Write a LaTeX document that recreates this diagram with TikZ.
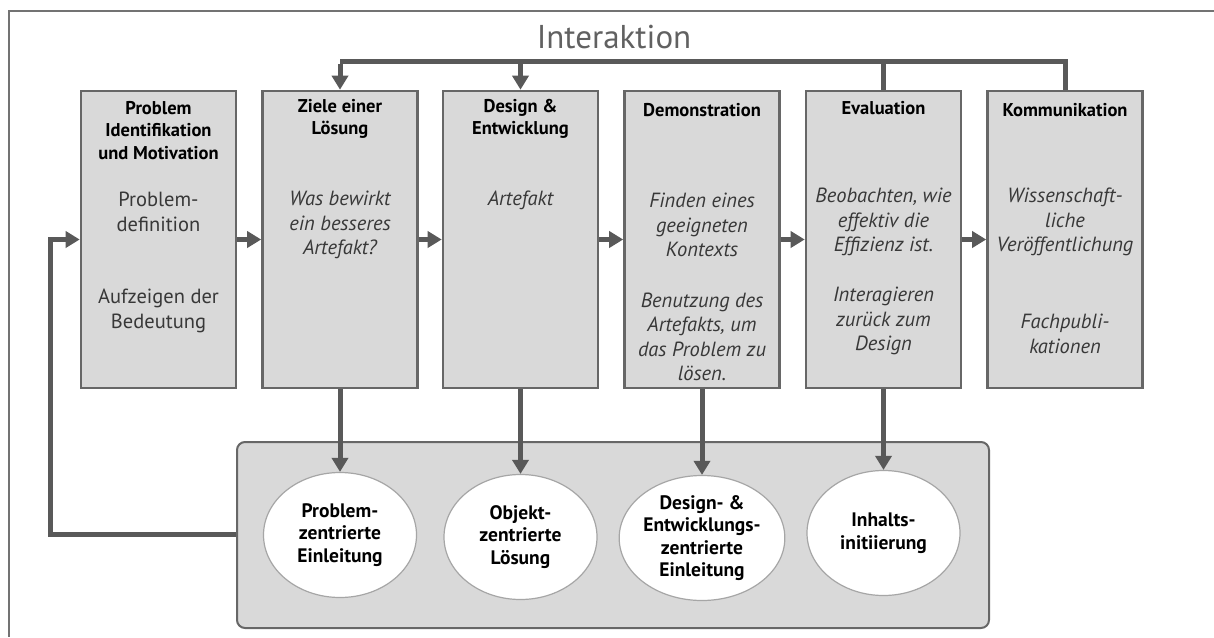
\documentclass[tikz,border=0pt]{standalone}
\usepackage{fontspec}
\setmainfont{PT Sans}
\usetikzlibrary{arrows.meta,shapes.geometric}
\definecolor{linegray}{HTML}{595959}
\definecolor{boxfill}{HTML}{D9D9D9}
\definecolor{boxline}{HTML}{676767}
\definecolor{bodytext}{HTML}{383838}
\begin{document}
\begin{tikzpicture}[x=1pt,y=-1pt,
  stagebox/.style={draw=boxline, line width=2.6pt, fill=boxfill,
    minimum width=155pt, minimum height=297pt, inner sep=0pt},
  title/.style={font=\fontsize{18.5}{22.5}\selectfont\bfseries, text=black,
    align=center, inner sep=0pt},
  body/.style={font=\fontsize{20.5}{24.5}\selectfont, text=bodytext,
    align=center, inner sep=0pt},
  bodyit/.style={body, font=\fontsize{20.5}{24.5}\selectfont\itshape},
  outcome/.style={ellipse, draw=black!35, line width=1.2pt, fill=white,
    minimum width=153pt, minimum height=125pt, inner sep=0pt, align=center,
    font=\fontsize{19.5}{22.5}\selectfont\bfseries},
  conn/.style={draw=linegray, line width=5pt},
  arr/.style={conn, -{Triangle[length=14pt,width=16pt]}},
]
\useasboundingbox (0,0) rectangle (1214,637);

% outer frame (open towards right and bottom)
\draw[draw=black!55, line width=2.6pt] (1214,11) -- (9,11) -- (9,637);

% heading
\node[font=\fontsize{33}{38}\selectfont, text=black!62, inner sep=0pt] (head) at (614,37) {Interaktion};

% process stages
\node[stagebox] (b1) at (158.5,239.5) {};
\node[stagebox] (b2) at (340,239.5) {};
\node[stagebox] (b3) at (520.5,239.5) {};
\node[stagebox] (b4) at (702,239.5) {};
\node[stagebox] (b5) at (883.5,239.5) {};
\node[stagebox] (b6) at (1065,239.5) {};

% stage titles
\node[title] (t1) at (158.5,130.5) {Problem\\Identifikation\\und Motivation};
\node[title] (t2) at (340,119) {Ziele einer\\Lösung};
\node[title] (t3) at (520.5,119) {Design \&\\Entwicklung};
\node[title] (t4) at (702,110) {Demonstration};
\node[title] (t5) at (883.5,108) {Evaluation};
\node[title] (t6) at (1065,110) {Kommunikation};

% stage contents
\node[body] (c1a) at (158.5,212) {Problem-\\definition};
\node[body] (c1b) at (158.5,311) {Aufzeigen der\\Bedeutung};
\node[bodyit] (c2) at (340,225) {Was bewirkt\\ein besseres\\Artefakt?};
\node[bodyit] (c3) at (520.5,200) {Artefakt};
\node[bodyit] (c4a) at (702,225) {Finden eines\\geeigneten\\Kontexts};
\node[bodyit] (c4b) at (702,337) {Benutzung des\\Artefakts, um\\das Problem zu\\lösen.};
\node[bodyit] (c5a) at (883.5,222) {Beobachten, wie\\effektiv die\\Effizienz ist.};
\node[bodyit] (c5b) at (883.5,321) {Interagieren\\zurück zum\\Design};
\node[bodyit] (c6a) at (1065,222) {Wissenschaft-\\liche\\Veröffentlichung};
\node[bodyit] (c6b) at (1065,334) {Fachpubli-\\kationen};

% entry points container
\node[draw=boxline, line width=2pt, fill=boxfill, rounded corners=8pt,
  minimum width=752pt, minimum height=186pt, inner sep=0pt] (cont) at (613,535) {};

\node[outcome] (e1) at (340,535) {Problem-\\zentrierte\\Einleitung};
\node[outcome] (e2) at (520.5,537) {Objekt-\\zentrierte\\Lösung};
\node[outcome] (e3) at (702,538) {Design- \&\\Entwicklungs-\\zentrierte\\Einleitung};
\node[outcome] (e4) at (883.5,533) {Inhalts-\\initiierung};

% sequential flow between stages
\draw[arr] (b1.east) -- (b2.west);
\draw[arr] (b2.east) -- (b3.west);
\draw[arr] (b3.east) -- (b4.west);
\draw[arr] (b4.east) -- (b5.west);
\draw[arr] (b5.east) -- (b6.west);

% iteration line along the top
\coordinate (ytop) at (0,61);
\draw[conn] (b6.north) -- (b6.north |- ytop) -- (b2.north |- ytop);
\draw[conn] (b5.north) -- (b5.north |- ytop);
\draw[arr] ([yshift=-2.5pt]b2.north |- ytop) -- (b2.north);
\draw[arr] (b3.north |- ytop) -- (b3.north);

% stages leading to entry points
\draw[arr] (b2.south) -- (e1.north);
\draw[arr] (b3.south) -- (e2.north);
\draw[arr] (b4.south) -- (e3.north);
\draw[arr] (b5.south) -- (e4.north);

% feedback into the first stage
\coordinate (fb) at (50,534);
\draw[arr] (cont.west |- fb) -- (fb) |- (b1.west);
\end{tikzpicture}
\end{document}
